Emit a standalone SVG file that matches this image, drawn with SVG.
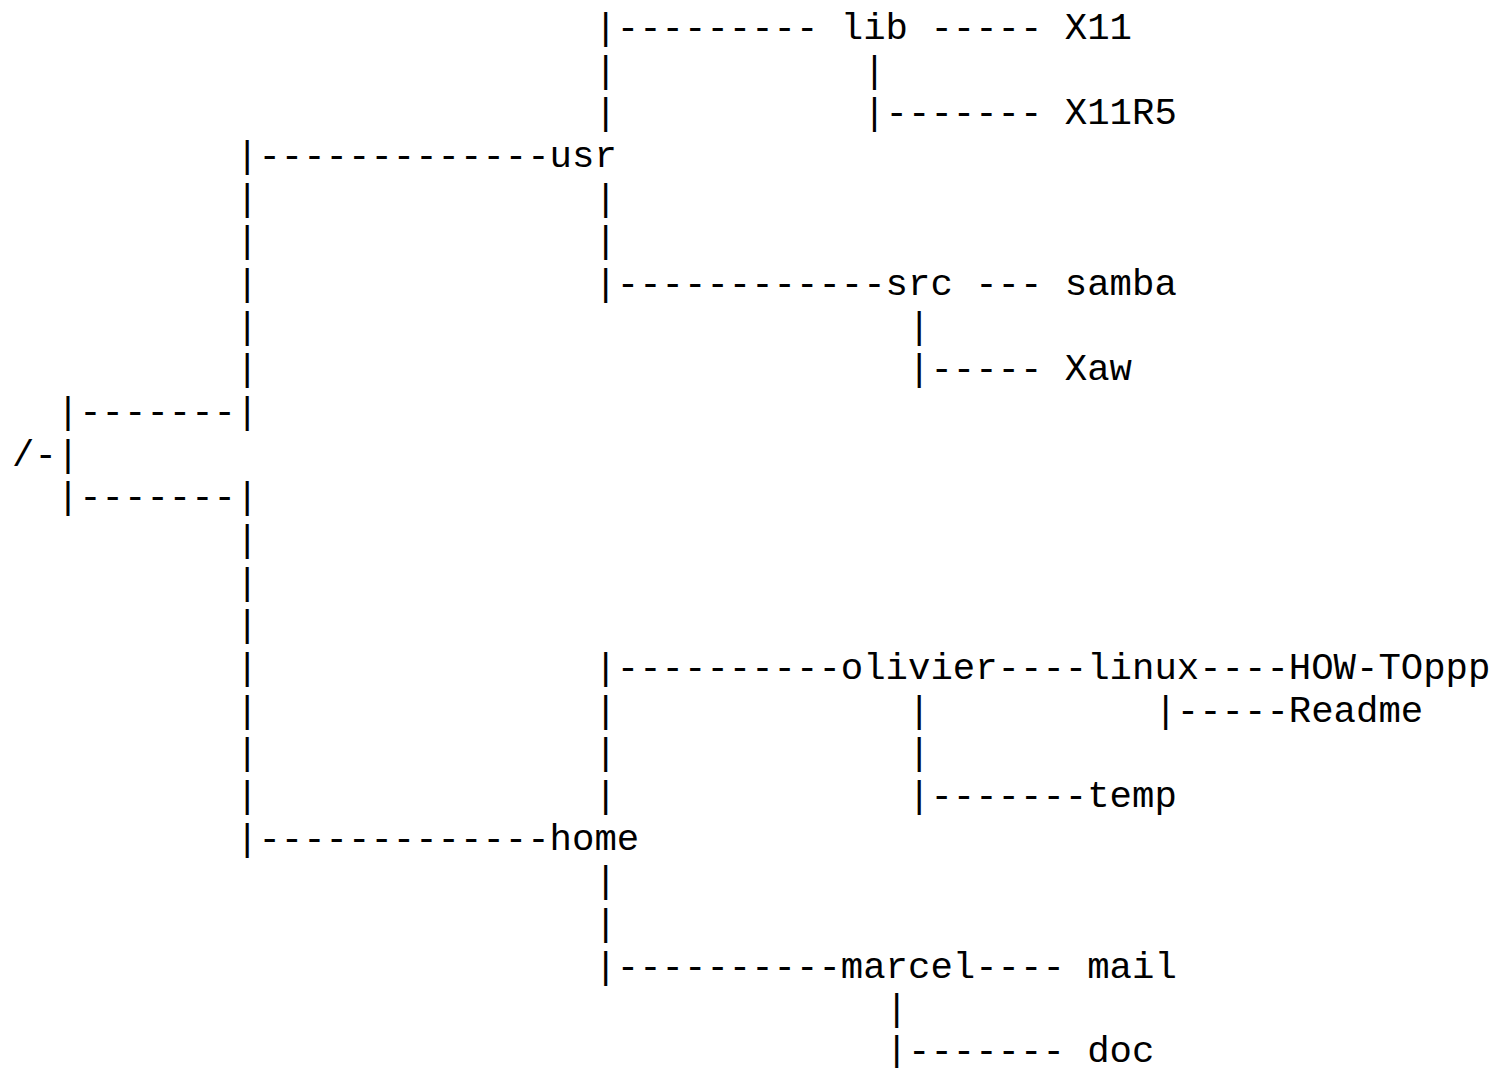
<svg xmlns="http://www.w3.org/2000/svg" width="1506" height="1068" viewBox="0 0 1506 1068">
<style>
text{font-family:"Liberation Mono","DejaVu Sans Mono",monospace;font-size:37.33px;fill:#000}
</style>
<rect width="1506" height="1068" fill="#fff"/>
<g id="connectors">
<text x="594.4" y="39">|---------</text><text x="930.4" y="39">-----</text>
<text x="594.4" y="81.67">|</text><text x="863.2" y="81.67">|</text>
<text x="594.4" y="124.33">|</text><text x="863.2" y="124.33">|-------</text>
<text x="236" y="167">|-------------</text>
<text x="236" y="209.67">|</text><text x="594.4" y="209.67">|</text>
<text x="236" y="252.33">|</text><text x="594.4" y="252.33">|</text>
<text x="236" y="295">|</text><text x="594.4" y="295">|------------</text><text x="975.2" y="295">---</text>
<text x="236" y="337.67">|</text><text x="908" y="337.67">|</text>
<text x="236" y="380.33">|</text><text x="908" y="380.33">|-----</text>
<text x="56.8" y="423">|-------|</text>
<text x="34.4" y="465.67">-|</text>
<text x="56.8" y="508.33">|-------|</text>
<text x="236" y="551">|</text>
<text x="236" y="593.67">|</text>
<text x="236" y="636.33">|</text>
<text x="236" y="679">|</text><text x="594.4" y="679">|----------</text><text x="997.6" y="679">----</text><text x="1199.2" y="679">----</text>
<text x="236" y="721.67">|</text><text x="594.4" y="721.67">|</text><text x="908" y="721.67">|</text><text x="1154.4" y="721.67">|-----</text>
<text x="236" y="764.33">|</text><text x="594.4" y="764.33">|</text><text x="908" y="764.33">|</text>
<text x="236" y="807">|</text><text x="594.4" y="807">|</text><text x="908" y="807">|-------</text>
<text x="236" y="849.67">|-------------</text>
<text x="594.4" y="892.33">|</text>
<text x="594.4" y="935">|</text>
<text x="594.4" y="977.67">|----------</text><text x="975.2" y="977.67">----</text>
<text x="885.6" y="1020.33">|</text>
<text x="885.6" y="1062">|-------</text>
</g>
<g id="node-root"><text x="12" y="465.67">/</text></g>
<g id="node-usr"><text x="549.6" y="167">usr</text></g>
<g id="node-lib"><text x="840.8" y="39">lib</text></g>
<g id="node-X11"><text x="1064.8" y="39">X11</text></g>
<g id="node-X11R5"><text x="1064.8" y="124.33">X11R5</text></g>
<g id="node-src"><text x="885.6" y="295">src</text></g>
<g id="node-samba"><text x="1064.8" y="295">samba</text></g>
<g id="node-Xaw"><text x="1064.8" y="380.33">Xaw</text></g>
<g id="node-home"><text x="549.6" y="849.67">home</text></g>
<g id="node-olivier"><text x="840.8" y="679">olivier</text></g>
<g id="node-linux"><text x="1087.2" y="679">linux</text></g>
<g id="node-HOW-TOppp"><text x="1288.8" y="679">HOW-TOppp</text></g>
<g id="node-Readme"><text x="1288.8" y="721.67">Readme</text></g>
<g id="node-temp"><text x="1087.2" y="807">temp</text></g>
<g id="node-marcel"><text x="840.8" y="977.67">marcel</text></g>
<g id="node-mail"><text x="1087.2" y="977.67">mail</text></g>
<g id="node-doc"><text x="1087.2" y="1062">doc</text></g>
</svg>
